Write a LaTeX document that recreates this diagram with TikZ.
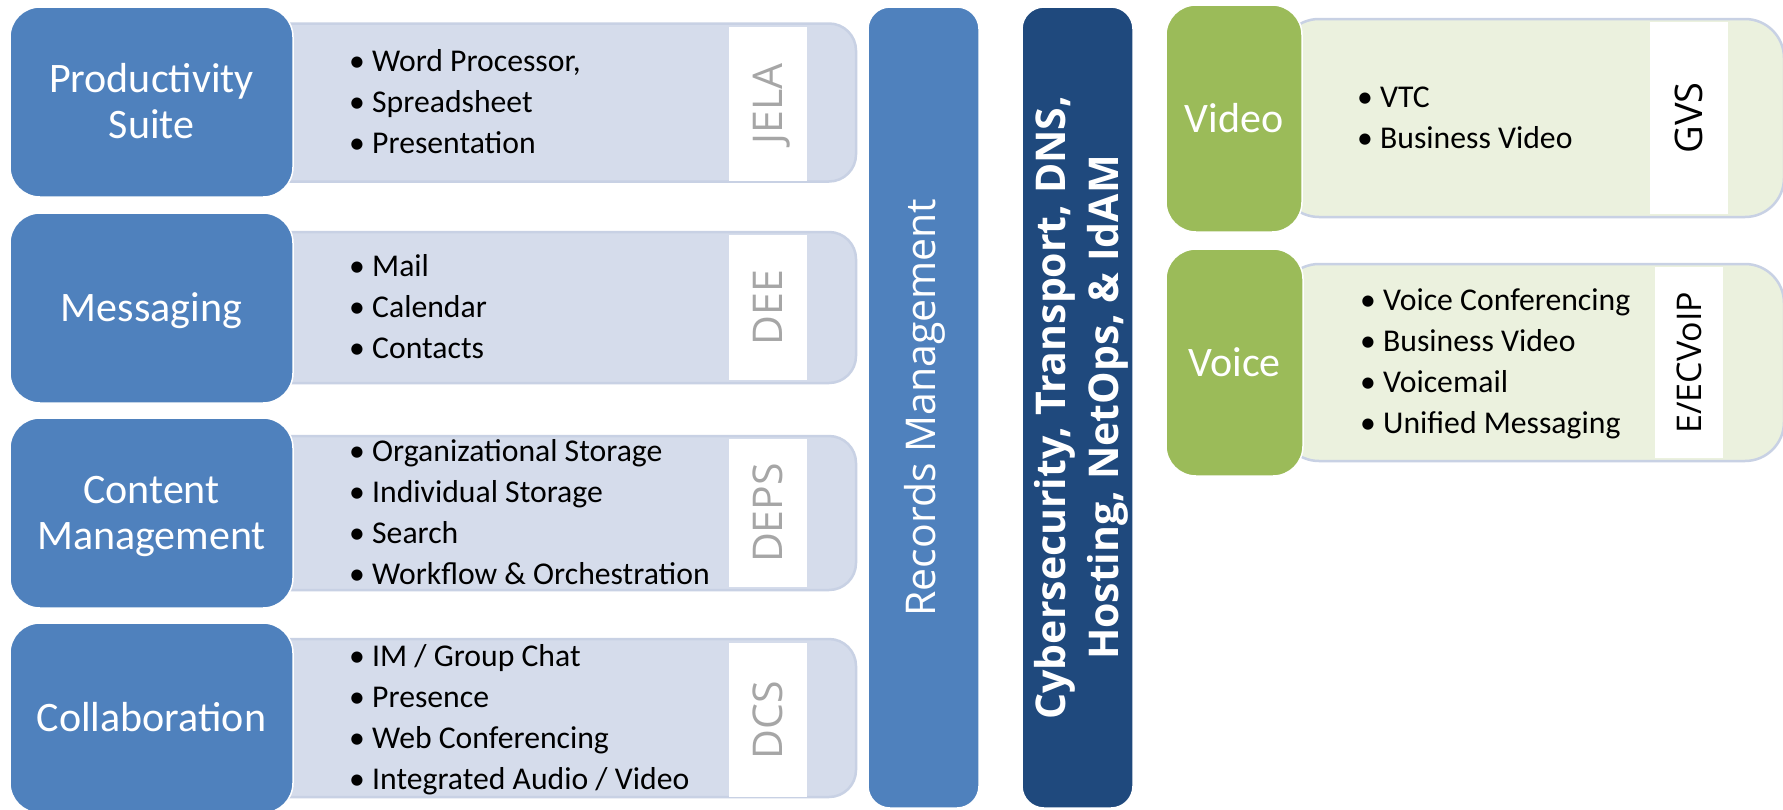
\documentclass[tikz,border=0pt]{standalone}
\usepackage{fontspec}
\setmainfont{Carlito}
\newfontfamily\osans{Open Sans}
\definecolor{mblue}{RGB}{79,129,189}
\definecolor{dblue}{RGB}{31,73,125}
\definecolor{mgreen}{RGB}{155,187,89}
\definecolor{lblue}{RGB}{213,220,235}
\definecolor{lbluedraw}{RGB}{200,209,228}
\definecolor{lgreen}{RGB}{235,241,222}
\definecolor{lgray}{RGB}{166,166,166}
\newcommand\mystr[2]{\rule[-#2pt]{0pt}{\dimexpr #1pt + #2pt\relax}}
\newcommand\istr{\mystr{30.65}{10.35}}
\newcommand\bul{\istr\makebox[23pt][l]{•}}
\newcommand\bulr{\istr\makebox[23pt][l]{•}}
\newcommand\lstr{\mystr{35.5}{8.5}}
\newcommand\cstr{\mystr{41.15}{11.85}}
\begin{document}
\begin{tikzpicture}[x=1pt,y=-1pt,
  catbox/.style={draw=white, line width=1.5pt, fill=mblue, rounded corners=30pt,
    minimum width=283pt, minimum height=190pt, inner sep=0pt, text=white,
    font=\fontsize{42}{46}\selectfont, align=center},
  grnbox/.style={catbox, fill=mgreen, minimum width=136pt, minimum height=227pt},
  lightbox/.style={draw=lbluedraw, line width=2.5pt, fill=lblue, rounded corners=27pt, inner sep=0pt},
  lgbox/.style={lightbox, fill=lgreen, rounded corners=39pt},
  tagbox/.style={fill=white, inner sep=0pt, rotate=90, text=lgray,
    font=\osans\fontsize{41}{50}\selectfont},
  items/.style={anchor=west, inner sep=0pt, align=left, font=\fontsize{31.7}{41}\selectfont},
  bar/.style={rotate=90, fill=mblue, draw=white, line width=1.5pt, rounded corners=22pt,
    minimum width=801pt, minimum height=111pt, inner sep=0pt, text=white}
]
\useasboundingbox (0,0) rectangle (1783,809);
\fill[white] (0,0) rectangle (1783,809);
\clip (0,0) rectangle (1783,809);

% light boxes (left)
\node[lightbox, minimum width=606pt, minimum height=158pt] (l1) at (553,102.5) {};
\node[lightbox, minimum width=606pt, minimum height=151pt] (l2) at (553,307.5) {};
\node[lightbox, minimum width=606pt, minimum height=154pt] (l3) at (553,513) {};
\node[lightbox, minimum width=606pt, minimum height=158pt] (l4) at (553,718) {};

% category boxes
\node[catbox] (prod) at (151.5,102) {\lstr Productivity\\\lstr Suite};
\node[catbox] (msg) at (151.5,308) {\lstr Messaging};
\node[catbox] (cont) at (151.5,513) {\lstr Content\\\lstr Management};
\node[catbox] (coll) at (151.5,718) {\lstr Collaboration};

% tags
\node[tagbox, minimum width=154pt, minimum height=78pt] (jela) at (768,104) {\mystr{39.3}{10}JELA};
\node[tagbox, minimum width=145pt, minimum height=78pt] (dee) at (768,307.5) {\mystr{39.3}{10}DEE};
\node[tagbox, minimum width=148pt, minimum height=78pt] (deps) at (768,513) {\mystr{39.3}{10}DEPS};
\node[tagbox, minimum width=154pt, minimum height=78pt] (dcs) at (768,720) {\mystr{39.3}{10}DCS};

% items
\node[items] (i1) at (349,102.5) {\bul Word Processor,\\\bul Spreadsheet\\\bul Presentation};
\node[items] (i2) at (349,307.5) {\bul Mail\\\bul Calendar\\\bul Contacts};
\node[items] (i3) at (349,513) {\bul Organizational Storage\\\bul Individual Storage\\\bul Search\\\bul Workflow \& Orchestration};
\node[items] (i4) at (349,718) {\bul IM / Group Chat\\\bul Presence\\\bul Web Conferencing\\\bul Integrated Audio / Video};

% vertical bars
\node[bar, font=\osans\fontsize{41}{48}\selectfont] (rec) at (923.5,407.5) {\mystr{34.3}{5}Records Management};
\node[bar, fill=dblue, align=center, font=\osans\bfseries\fontsize{41}{53}\selectfont] (cyb) at (1077.5,407.5)
  {\cstr Cybersecurity, Transport, DNS,\\\cstr Hosting, NetOps, \& IdAM};

% right light boxes
\node[lgbox, minimum width=504pt, minimum height=198pt] (lv) at (1532,118) {};
\node[lgbox, minimum width=504pt, minimum height=197pt] (lo) at (1532,362.5) {};

% green boxes
\node[grnbox] (video) at (1234,118.5) {\lstr Video};
\node[grnbox, minimum width=137pt] (voice) at (1234.5,362.5) {\lstr Voice};

% right tags
\node[tagbox, text=black, minimum width=192pt, minimum height=78pt,
  font=\osans\fontsize{38}{48}\selectfont] (gvs) at (1689,118) {\mystr{37.1}{10}GVS};
\node[tagbox, text=black, minimum width=191pt, minimum height=68pt,
  font=\osans\fontsize{34}{42}\selectfont] (ecv) at (1689,362.5) {\mystr{34.3}{10}E/ECVoIP};

% right items
\node[items] (iv) at (1357,118) {\bulr VTC\\\bulr Business Video};
\node[items] (io) at (1360,362) {\bulr Voice Conferencing\\\bulr Business Video\\\bulr Voicemail\\\bulr Unified Messaging};
\end{tikzpicture}
\end{document}
